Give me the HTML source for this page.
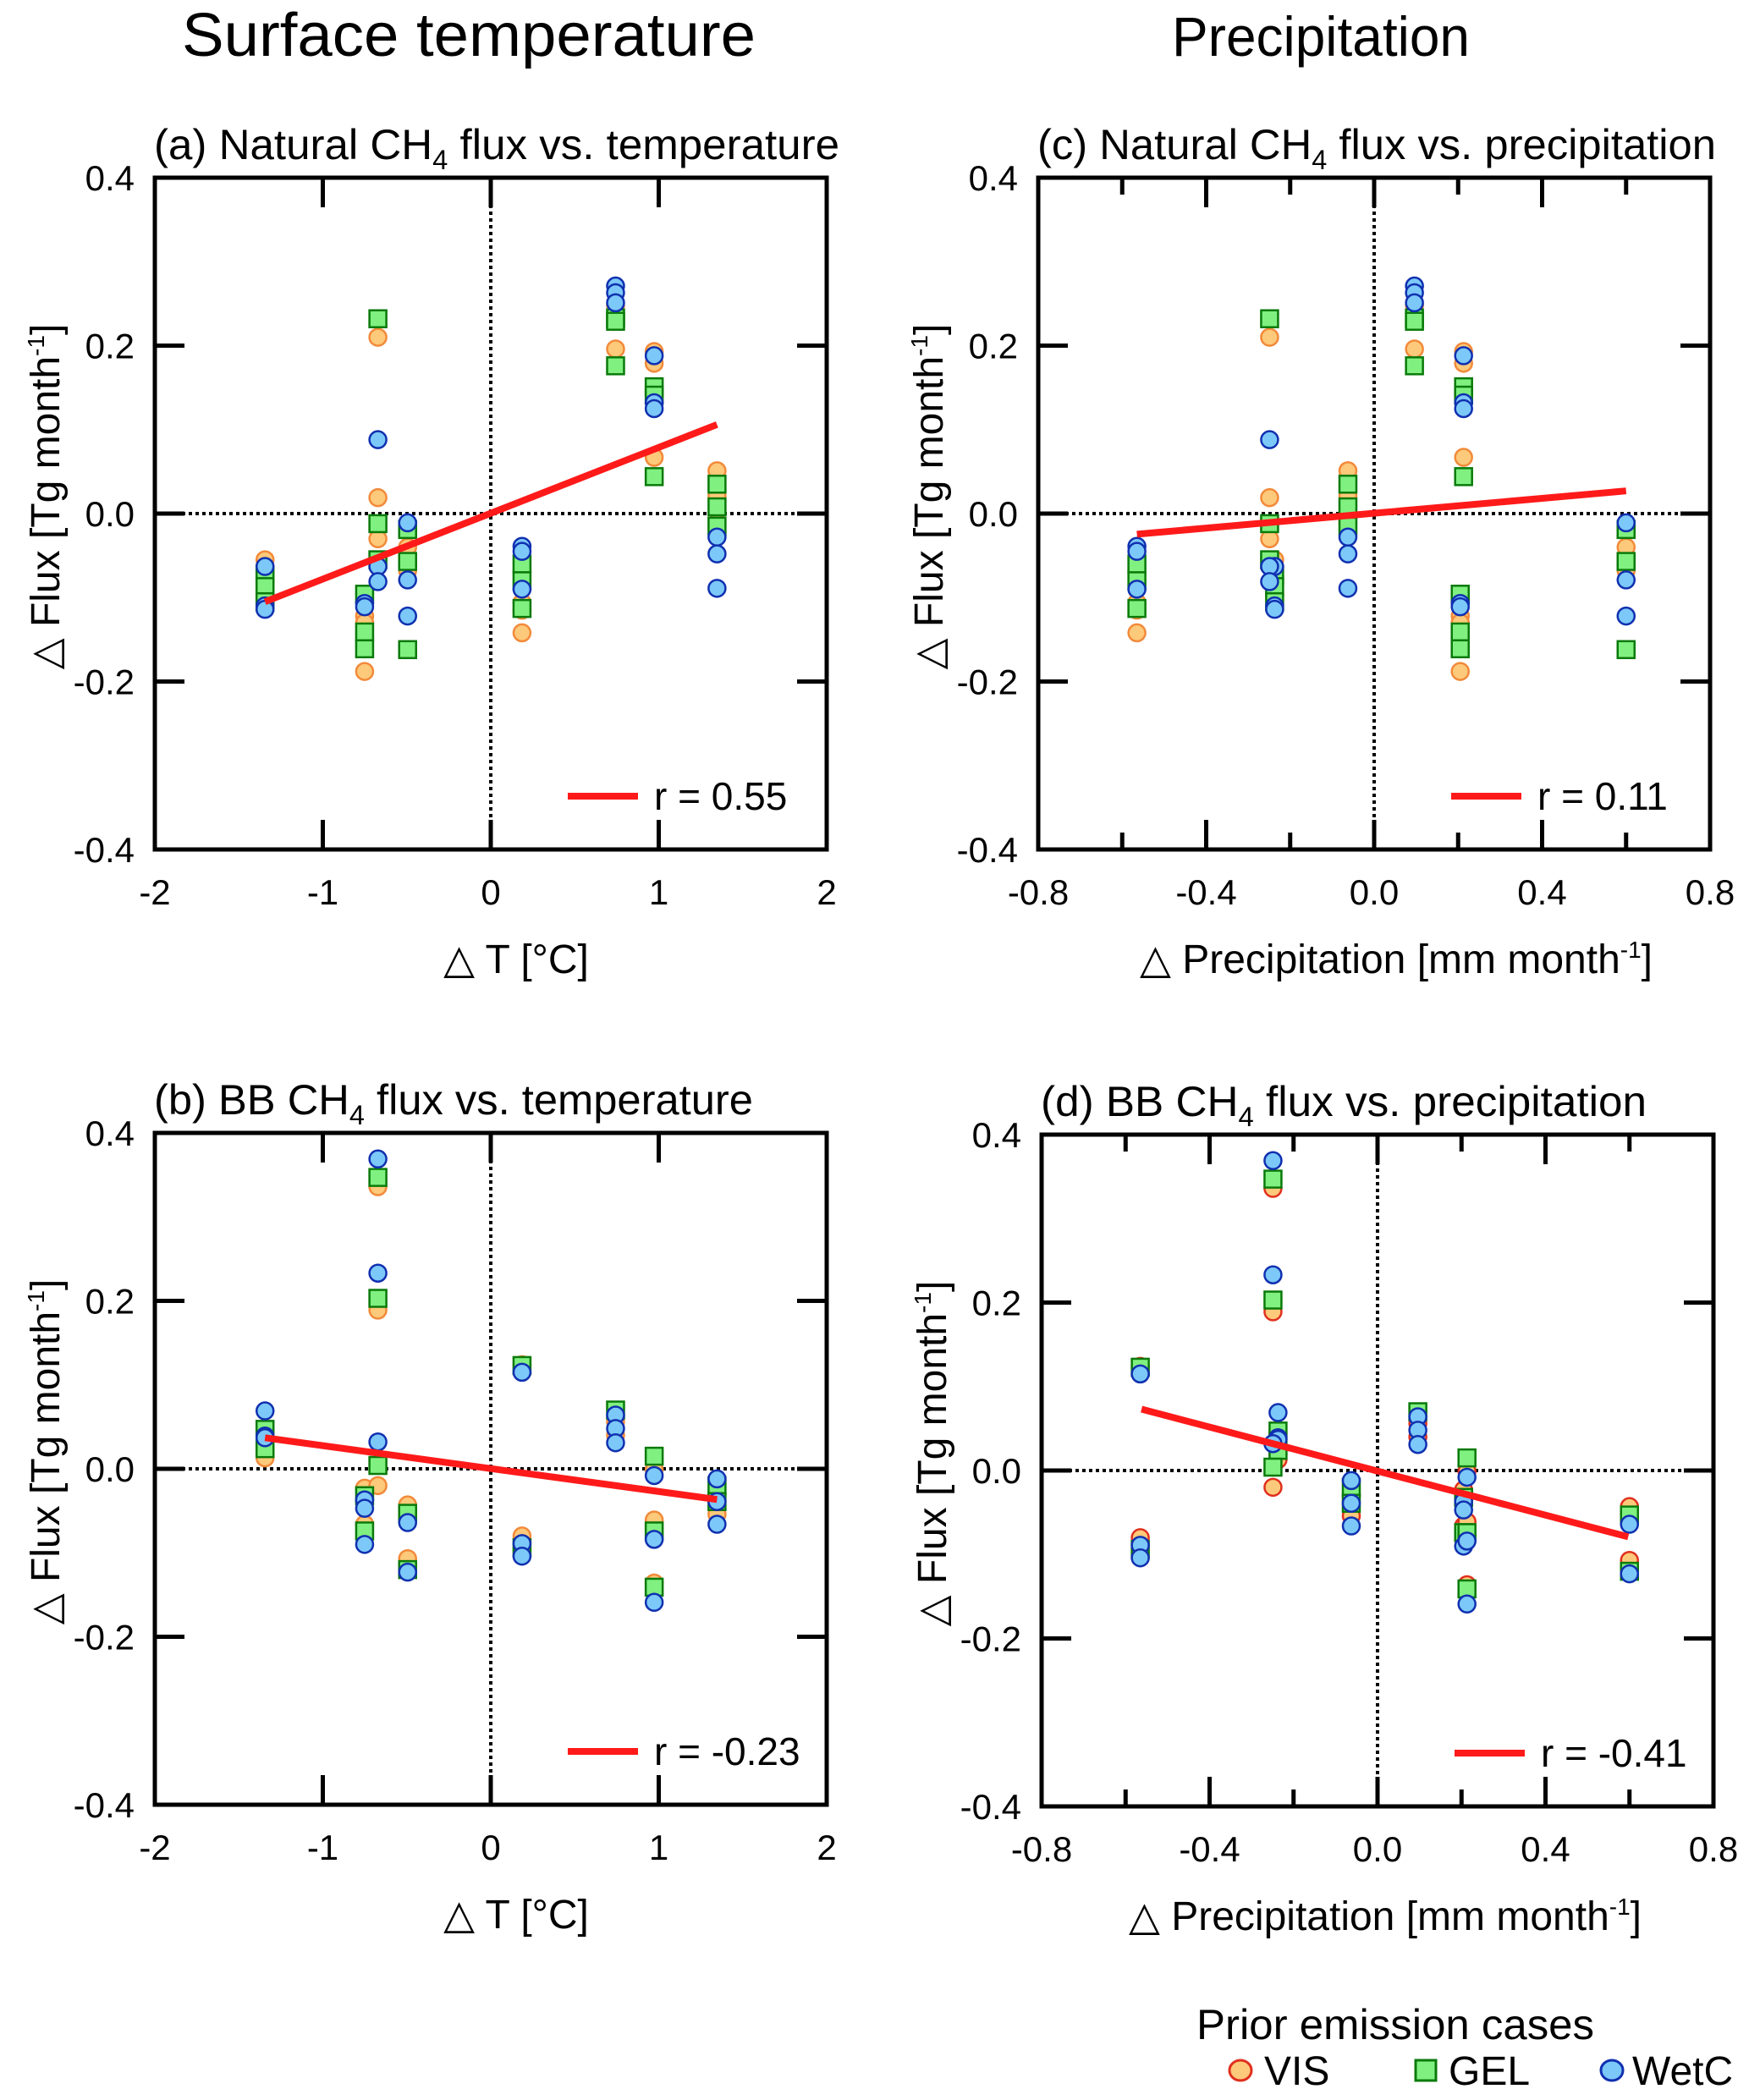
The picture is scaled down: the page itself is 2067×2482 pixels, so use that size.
<!DOCTYPE html>
<html><head><meta charset="utf-8"><style>
html,body{margin:0;padding:0;background:#fff;}
svg{display:block;font-family:"Liberation Sans","DejaVu Sans",sans-serif;}
</style></head><body>
<svg id="fig" width="2067" height="2482" viewBox="0 0 2067 2482" xmlns="http://www.w3.org/2000/svg">
<rect x="0" y="0" width="2067" height="2482" fill="#fff"/>
<text x="554" y="66" font-size="72" text-anchor="middle" textLength="678" lengthAdjust="spacingAndGlyphs">Surface temperature</text>
<text x="1561" y="66" font-size="66" text-anchor="middle" textLength="352" lengthAdjust="spacingAndGlyphs">Precipitation</text>
<g id="panels"></g>
<g>
<text x="1649" y="2410" font-size="50" text-anchor="middle" textLength="470" lengthAdjust="spacingAndGlyphs">Prior emission cases</text>
<ellipse cx="1466" cy="2447" rx="13" ry="12" fill="#fdc97a" stroke="#e0301e" stroke-width="3"/>
<text x="1494" y="2464" font-size="48">VIS</text>
<rect x="1673" y="2435" width="24" height="24" fill="#80f080" stroke="#0a7a0a" stroke-width="3"/>
<text x="1712" y="2464" font-size="48">GEL</text>
<ellipse cx="1905" cy="2447" rx="13" ry="12" fill="#7cc8f8" stroke="#1030b0" stroke-width="3"/>
<text x="1929" y="2464" font-size="48">WetC</text>
</g>
</svg>
<script>
// month columns (same months in all panels)
const tempX = [-1.344, -0.751, -0.672, -0.495, 0.186, 0.743, 0.973, 1.347];
const precipX = [-0.237, 0.205, -0.249, 0.60, -0.565, 0.096, 0.213, -0.0625];
// Natural CH4 flux anomalies per column
const natVIS = [[-0.055,-0.097],[-0.122,-0.13,-0.188],[0.21,0.019,-0.03],[-0.04,-0.068,-0.162],[-0.106,-0.115,-0.142],[0.248,0.196],[0.193,0.179,0.067],[0.051,0.021,-0.011]];
const natGEL = [[-0.073,-0.087,-0.105],[-0.096,-0.141,-0.161],[0.232,-0.012,-0.055],[-0.019,-0.057,-0.162],[-0.06,-0.08,-0.113],[0.233,0.229,0.176],[0.151,0.141,0.044],[0.035,0.008,-0.015]];
const natWetC = [[-0.063,-0.11,-0.114],[-0.107,-0.111],[0.088,-0.063,-0.081],[-0.011,-0.079,-0.122],[-0.039,-0.045,-0.09],[0.271,0.263,0.251],[0.188,0.132,0.125],[-0.028,-0.048,-0.089]];
// BB CH4 flux anomalies per column
const bbVIS = [[0.044,0.019,0.013],[-0.023,-0.066],[0.336,0.189,-0.02],[-0.043,-0.107],[0.124,-0.08],[0.056,0.04],[-0.001,-0.061,-0.136],[-0.03,-0.054]];
const bbGEL = [[0.047,0.024],[-0.032,-0.074],[0.347,0.203,0.004],[-0.053,-0.12],[0.123,-0.094],[0.07],[0.015,-0.074,-0.141],[-0.02,-0.039]];
const bbWetC = [[0.069,0.039,0.037],[-0.037,-0.047,-0.09],[0.369,0.233,0.032],[-0.064,-0.123],[0.115,-0.089,-0.104],[0.064,0.048,0.031],[-0.008,-0.084,-0.159],[-0.012,-0.039,-0.066]];
// regression lines [x0,x1],[y0,y1]
const fitAX = [-1.344, 1.347], fitAY = [-0.105, 0.106];
const fitBX = [-1.344, 1.347], fitBY = [0.037, -0.0365];
const fitCX = [-0.565, 0.60], fitCY = [-0.0246, 0.027];
const fitDX = [-0.562, 0.597], fitDY = [0.073, -0.079];
const rLabels = ["r = 0.55", "r = -0.23", "r = 0.11", "r = -0.41"];
const tempTicks = [-2, -1, 0, 1, 2];
const tempTickLabels = ["-2", "-1", "0", "1", "2"];
const precipTicks = [-0.8, -0.4, 0.0, 0.4, 0.8];
const precipTickLabels = ["-0.8", "-0.4", "0.0", "0.4", "0.8"];
const precipMinor = [-0.6, -0.2, 0.2, 0.6];
const yTicks = [0.4, 0.2, 0.0, -0.2, -0.4];
const yTickLabels = ["0.4", "0.2", "0.0", "-0.2", "-0.4"];

const NS = "http://www.w3.org/2000/svg";
const root = document.getElementById("panels");
function mk(tag, parent) { const e = document.createElementNS(NS, tag); parent.appendChild(e); return e; }

function drawPanel(p) {
  const g = mk("g", root);
  
  
  const W = p.x1 - p.x0, H = p.y1 - p.y0;
  const sx = v => p.x0 + (v - p.xmin) / (p.xmax - p.xmin) * W;
  const sy = v => p.y1 - (v + 0.4) / 0.8 * H;
  const hz = mk("line", g);
  
  
  hz.setAttribute("x1", p.x0); hz.setAttribute("x2", p.x1); hz.setAttribute("y1", sy(0)); hz.setAttribute("y2", sy(0));
  hz.setAttribute("stroke", "#000"); hz.setAttribute("stroke-width", "4"); hz.setAttribute("stroke-dasharray", "4 4");
  const vz = mk("line", g);
  
  
  vz.setAttribute("x1", sx(0)); vz.setAttribute("x2", sx(0)); vz.setAttribute("y1", p.y0); vz.setAttribute("y2", p.y1);
  vz.setAttribute("stroke", "#000"); vz.setAttribute("stroke-width", "4"); vz.setAttribute("stroke-dasharray", "4 4");
  p.xt.forEach((t, i) => {
    [[p.y1, -35], [p.y0, 35]].forEach(([yy, d]) => {
      const l = mk("line", g);
      
      
      l.setAttribute("x1", sx(t)); l.setAttribute("x2", sx(t)); l.setAttribute("y1", yy); l.setAttribute("y2", yy + d);
      l.setAttribute("stroke", "#000"); l.setAttribute("stroke-width", "5");
    });
    const tx = mk("text", g);
    
    
    tx.setAttribute("x", sx(t)); tx.setAttribute("y", p.y1 + 65); tx.setAttribute("font-size", "42"); tx.setAttribute("text-anchor", "middle");
    tx.textContent = p.xtl[i];
  });
  (p.minor || []).forEach(t => {
    [[p.y1, -20], [p.y0, 20]].forEach(([yy, d]) => {
      const l = mk("line", g);
      
      
      l.setAttribute("x1", sx(t)); l.setAttribute("x2", sx(t)); l.setAttribute("y1", yy); l.setAttribute("y2", yy + d);
      l.setAttribute("stroke", "#000"); l.setAttribute("stroke-width", "5");
    });
  });
  yTicks.forEach((t, i) => {
    [[p.x0, 35], [p.x1, -35]].forEach(([xx, d]) => {
      const l = mk("line", g);
      
      
      l.setAttribute("x1", xx); l.setAttribute("x2", xx + d); l.setAttribute("y1", sy(t)); l.setAttribute("y2", sy(t));
      l.setAttribute("stroke", "#000"); l.setAttribute("stroke-width", "5");
    });
    const tx = mk("text", g);
    
    
    tx.setAttribute("x", p.x0 - 24); tx.setAttribute("y", sy(t) + 15); tx.setAttribute("font-size", "42"); tx.setAttribute("text-anchor", "end");
    tx.textContent = yTickLabels[i];
  });
  const fr = mk("rect", g);
  
  
  fr.setAttribute("x", p.x0); fr.setAttribute("y", p.y0); fr.setAttribute("width", W); fr.setAttribute("height", H);
  fr.setAttribute("fill", "none"); fr.setAttribute("stroke", "#000"); fr.setAttribute("stroke-width", "5");
  const cases = [
    { d: p.vis, shape: "c", fill: "#fdc97a", stroke: p.visStroke, name: "point-vis" },
    { d: p.gel, shape: "s", fill: "#80f080", stroke: "#0a7a0a", name: "point-gel" },
    { d: p.wet, shape: "c", fill: "#7cc8f8", stroke: "#1030b0", name: "point-wetc" }];
  cases.forEach(cs => {
    cs.d.forEach((col, ci) => {
      col.forEach(v => {
        const cx = sx(p.cols[ci]), cy = sy(v);
        let m;
        if (cs.shape === "c") {
          m = mk("ellipse", g);
          m.setAttribute("cx", cx); m.setAttribute("cy", cy); m.setAttribute("rx", 10); m.setAttribute("ry", 10);
        } else {
          m = mk("rect", g);
          m.setAttribute("x", cx - 10); m.setAttribute("y", cy - 10); m.setAttribute("width", 20); m.setAttribute("height", 20);
        }
        
        
        m.setAttribute("fill", cs.fill); m.setAttribute("stroke", cs.stroke); m.setAttribute("stroke-width", "2.5");
      });
    });
  });
  const fl = mk("line", g);
  
  
  fl.setAttribute("x1", sx(p.fx[0])); fl.setAttribute("x2", sx(p.fx[1])); fl.setAttribute("y1", sy(p.fy[0])); fl.setAttribute("y2", sy(p.fy[1]));
  fl.setAttribute("stroke", "#ff1a1a"); fl.setAttribute("stroke-width", "8");
  const ll = mk("line", g);
  
  
  ll.setAttribute("x1", p.x0 + 488); ll.setAttribute("x2", p.x0 + 571); ll.setAttribute("y1", p.y1 - 63); ll.setAttribute("y2", p.y1 - 63);
  ll.setAttribute("stroke", "#ff1a1a"); ll.setAttribute("stroke-width", "8");
  const lt = mk("text", g);
  
  
  lt.setAttribute("x", p.x0 + 590); lt.setAttribute("y", p.y1 - 47); lt.setAttribute("font-size", "46");
  lt.textContent = p.r;
  const tt = mk("text", g);
  
  
  tt.setAttribute("x", p.x0 - 1); tt.setAttribute("y", p.y0 - 22); tt.setAttribute("font-size", "50");
  tt.setAttribute("textLength", p.titleLen); tt.setAttribute("lengthAdjust", "spacingAndGlyphs");
  const s1 = mk("tspan", tt); s1.textContent = p.title[0] + " CH";
  const s2 = mk("tspan", tt); s2.setAttribute("font-size", "32"); s2.setAttribute("dy", "12"); s2.textContent = "4";
  const s3 = mk("tspan", tt); s3.setAttribute("dy", "-12"); s3.textContent = " " + p.title[1];
  const xa = mk("text", g);
  
  
  xa.setAttribute("x", p.xtc); xa.setAttribute("y", p.y1 + 146); xa.setAttribute("font-size", "48"); xa.setAttribute("text-anchor", "middle");
  const a1 = mk("tspan", xa); a1.textContent = p.xlab[0];
  if (p.xlab[1]) {
    const a2 = mk("tspan", xa); a2.setAttribute("font-size", "28"); a2.setAttribute("dy", "-18"); a2.textContent = "-1";
    const a3 = mk("tspan", xa); a3.setAttribute("dy", "18"); a3.textContent = "]";
  }
  const ya = mk("text", g);
  
  
  const yx = p.x0 - 113, yc = (p.y0 + p.y1) / 2 - 20;
  ya.setAttribute("x", yx); ya.setAttribute("y", yc); ya.setAttribute("font-size", "48"); ya.setAttribute("text-anchor", "middle");
  ya.setAttribute("transform", "rotate(-90 " + yx + " " + yc + ")");
  const b1 = mk("tspan", ya); b1.textContent = "△ Flux [Tg month";
  const b2 = mk("tspan", ya); b2.setAttribute("font-size", "28"); b2.setAttribute("dy", "-18"); b2.textContent = "-1";
  const b3 = mk("tspan", ya); b3.setAttribute("dy", "18"); b3.textContent = "]";
}

drawPanel({ name: "panel-a", x0: 183, x1: 977, y0: 210, y1: 1004, xmin: -2, xmax: 2, xt: tempTicks, xtl: tempTickLabels,
  cols: tempX, vis: natVIS, gel: natGEL, wet: natWetC, visStroke: "#f28a3a", fx: fitAX, fy: fitAY, r: rLabels[0],
  title: ["(a) Natural", "flux vs. temperature"], titleLen: 810, xlab: ["△ T [°C]"], xtc: 610 });
drawPanel({ name: "panel-b", x0: 183, x1: 977, y0: 1339, y1: 2133, xmin: -2, xmax: 2, xt: tempTicks, xtl: tempTickLabels,
  cols: tempX, vis: bbVIS, gel: bbGEL, wet: bbWetC, visStroke: "#f28a3a", fx: fitBX, fy: fitBY, r: rLabels[1],
  title: ["(b) BB", "flux vs. temperature"], titleLen: 708, xlab: ["△ T [°C]"], xtc: 610 });
drawPanel({ name: "panel-c", x0: 1227, x1: 2021, y0: 210, y1: 1004, xmin: -0.8, xmax: 0.8, xt: precipTicks, xtl: precipTickLabels, minor: precipMinor,
  cols: precipX, vis: natVIS, gel: natGEL, wet: natWetC, visStroke: "#f28a3a", fx: fitCX, fy: fitCY, r: rLabels[2],
  title: ["(c) Natural", "flux vs. precipitation"], titleLen: 802, xlab: ["△ Precipitation [mm month", true], xtc: 1650 });
drawPanel({ name: "panel-d", x0: 1231, x1: 2025, y0: 1341, y1: 2135, xmin: -0.8, xmax: 0.8, xt: precipTicks, xtl: precipTickLabels, minor: precipMinor,
  cols: precipX, vis: bbVIS, gel: bbGEL, wet: bbWetC, visStroke: "#e0301e", fx: fitDX, fy: fitDY, r: rLabels[3],
  title: ["(d) BB", "flux vs. precipitation"], titleLen: 716, xlab: ["△ Precipitation [mm month", true], xtc: 1637 });
</script>
</body></html>
